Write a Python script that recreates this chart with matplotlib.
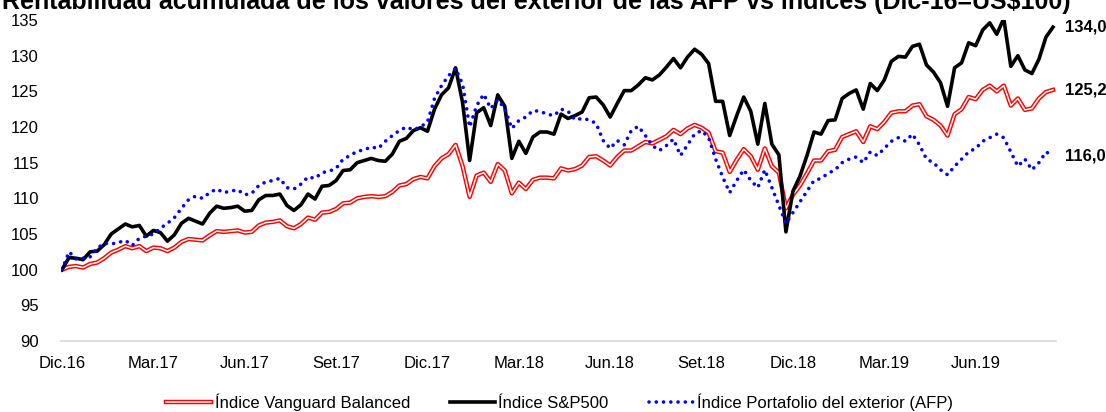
import matplotlib.pyplot as plt
from matplotlib.legend_handler import HandlerTuple
import pandas as pd

plt.rcParams['font.family'] = ['Liberation Sans', 'DejaVu Sans']
plt.rcParams['font.size'] = 12

title = 'Rentabilidad acumulada de los valores del exterior de las AFP vs índices (Dic-16=US$100)'

# weekly values, Dec.16 = 100
weeks = pd.date_range('2016-12-30', periods=142, freq='W-FRI')

vanguard = [100.0, 100.4, 100.5, 100.3, 100.8, 101.0, 101.6, 102.4, 102.8, 103.3,
            103.0, 103.3, 102.6, 103.1, 103.0, 102.6, 103.1, 103.9, 104.3, 104.2,
            104.1, 104.8, 105.4, 105.3, 105.4, 105.5, 105.2, 105.3, 106.2, 106.6,
            106.7, 106.9, 106.1, 105.8, 106.4, 107.3, 107.0, 108.0, 108.1, 108.5,
            109.3, 109.4, 110.0, 110.2, 110.3, 110.2, 110.3, 110.9, 111.8, 112.0,
            112.7, 113.0, 112.8, 114.5, 115.6, 116.2, 117.5, 114.5, 110.2, 113.2,
            113.6, 112.3, 114.8, 113.9, 110.7, 112.2, 111.3, 112.6, 112.9, 112.9,
            112.8, 114.2, 113.9, 114.1, 114.6, 115.8, 115.9, 115.3, 114.6, 115.8,
            116.7, 116.7, 117.3, 117.9, 117.7, 118.2, 118.7, 119.6, 119.0, 119.8,
            120.3, 119.9, 119.2, 116.6, 116.4, 113.7, 115.4, 116.9, 115.9, 114.0,
            117.0, 114.5, 113.6, 108.6, 110.5, 111.8, 113.5, 115.3, 115.3, 116.6,
            116.8, 118.6, 119.0, 119.4, 117.9, 120.1, 119.7, 120.7, 122.0, 122.2,
            122.2, 123.0, 123.2, 121.5, 121.0, 120.2, 118.8, 121.8, 122.5, 124.2,
            123.9, 125.2, 125.8, 125.0, 125.8, 123.0, 124.0, 122.4, 122.6, 124.0,
            124.9, 125.2]

sp500 = [100.0, 101.7, 101.6, 101.4, 102.5, 102.6, 103.5, 105.0, 105.7, 106.4,
         106.0, 106.2, 104.7, 105.5, 105.2, 104.0, 104.9, 106.5, 107.2, 106.8,
         106.4, 107.9, 108.9, 108.6, 108.7, 108.9, 108.2, 108.3, 109.8, 110.4,
         110.4, 110.6, 109.0, 108.3, 109.1, 110.6, 109.9, 111.7, 111.8, 112.5,
         113.9, 114.0, 115.0, 115.3, 115.6, 115.3, 115.2, 116.2, 118.0, 118.4,
         119.5, 119.9, 119.4, 122.5, 124.5, 125.5, 128.3, 123.4, 115.3, 122.0,
         122.7, 120.2, 124.5, 122.9, 115.6, 118.0, 116.3, 118.6, 119.3, 119.3,
         119.0, 121.8, 121.2, 121.6, 122.1, 124.1, 124.2, 123.1, 121.4, 123.3,
         125.1, 125.1, 125.9, 126.9, 126.6, 127.3, 128.4, 129.6, 128.3, 129.8,
         130.9, 130.2, 128.9, 123.6, 123.6, 118.8, 121.6, 124.2, 122.2, 117.6,
         123.3, 117.6, 116.1, 105.3, 111.0, 113.1, 116.0, 119.3, 119.0, 120.9,
         121.0, 124.0, 124.7, 125.2, 122.5, 126.1, 125.1, 126.6, 129.2, 129.9,
         129.8, 131.3, 131.6, 128.7, 127.7, 126.2, 122.9, 128.3, 129.0, 131.8,
         131.4, 133.6, 134.6, 133.0, 135.2, 128.5, 130.0, 128.0, 127.5, 129.5,
         132.6, 134.0]

afp = [100.0, 102.5, 101.5, 101.6, 101.8, 103.0, 103.7, 103.6, 103.8, 104.1,
       103.4, 104.4, 104.7, 105.0, 105.8, 106.5, 107.3, 108.6, 109.8, 110.3,
       110.0, 110.8, 111.3, 110.8, 111.0, 111.2, 110.5, 110.7, 111.8, 112.3,
       112.5, 112.8, 111.5, 111.3, 112.0, 113.0, 112.8, 113.6, 113.8, 114.2,
       115.5, 116.0, 116.6, 116.8, 117.2, 117.0, 118.0, 118.8, 119.5, 120.0,
       119.6, 120.0, 120.7, 124.0, 125.8, 127.2, 128.2, 126.0, 120.0, 123.0,
       124.6, 122.6, 123.8, 122.6, 119.8, 120.9, 121.4, 122.3, 122.2, 121.8,
       121.6, 122.5, 122.2, 121.0, 121.2, 121.0, 120.5, 118.1, 117.0, 118.1,
       117.5, 119.5, 120.1, 118.8, 117.4, 116.7, 117.4, 118.3, 116.0, 117.5,
       119.0, 119.5, 118.5, 115.5, 113.0, 110.8, 112.5, 114.0, 112.5, 111.5,
       114.0, 111.5, 109.0, 106.5, 108.0, 109.5, 111.0, 112.5, 112.8, 113.5,
       114.0, 115.0, 115.5, 115.8, 115.0, 116.5, 116.0, 117.0, 118.0, 118.5,
       118.0, 119.0, 117.5, 115.5, 115.0, 114.0, 113.3, 114.5, 115.5, 116.5,
       117.0, 118.0, 118.5, 119.0, 118.5, 116.5, 114.5, 115.5, 114.0, 115.0,
       116.5, 116.0]

tick_dates = pd.to_datetime(['2016-12-30', '2017-03-31', '2017-06-30', '2017-09-29',
                             '2017-12-29', '2018-03-30', '2018-06-29', '2018-09-28',
                             '2018-12-28', '2019-03-29', '2019-06-28'])
tick_labels = ['Dic.16', 'Mar.17', 'Jun.17', 'Set.17', 'Dic.17', 'Mar.18',
               'Jun.18', 'Set.18', 'Dic.18', 'Mar.19', 'Jun.19']

fig = plt.figure(figsize=(11.06, 4.12), dpi=100)
ax = fig.add_axes([61 / 1106, 1 - 341 / 412, (1056 - 61) / 1106, (341 - 20) / 412])

red_out, = ax.plot(weeks, vanguard, color='#ff0000', lw=3.2, solid_joinstyle='round')
red_in, = ax.plot(weeks, vanguard, color='white', lw=1.1, solid_joinstyle='round')
black, = ax.plot(weeks, sp500, color='black', lw=2.6, solid_joinstyle='round')
blue, = ax.plot(weeks, afp, color='#0000ff', lw=2.6, linestyle=(0, (0.01, 2.0)),
                dash_capstyle='round')

for vals, txt in [(sp500, '134,0'), (vanguard, '125,2'), (afp, '116,0')]:
    ax.annotate(txt, xy=(weeks[-1], vals[-1]), xytext=(9, 0), textcoords='offset points',
                va='center', ha='left', fontweight='bold', fontsize=12)

ax.set_xlim(pd.Timestamp('2016-12-29'), pd.Timestamp('2019-09-16'))
ax.set_ylim(90, 135)
ax.set_yticks(range(90, 136, 5))
ax.set_xticks(tick_dates)
ax.set_xticklabels(tick_labels)
ax.tick_params(axis='y', length=0, pad=16, labelsize=12)
ax.tick_params(axis='x', length=0, pad=11, labelsize=12)
for s in ['left', 'top', 'right']:
    ax.spines[s].set_visible(False)
ax.spines['bottom'].set_color('#d9d9d9')
ax.spines['bottom'].set_linewidth(1.2)

fig.text(0.002, 1 - 9 / 412, title, ha='left', va='baseline', fontsize=18, fontweight='bold')

fig.legend([(red_out, red_in), black, blue],
           ['Índice Vanguard Balanced', 'Índice S&P500', 'Índice Portafolio del exterior (AFP)'],
           handler_map={tuple: HandlerTuple(ndivide=1, pad=0)},
           loc='center', bbox_to_anchor=(0.506, 0.024), ncol=3, frameon=False,
           handlelength=2.7, handletextpad=0.2, columnspacing=2.4, fontsize=12)

fig.savefig('out.png', dpi=100)
